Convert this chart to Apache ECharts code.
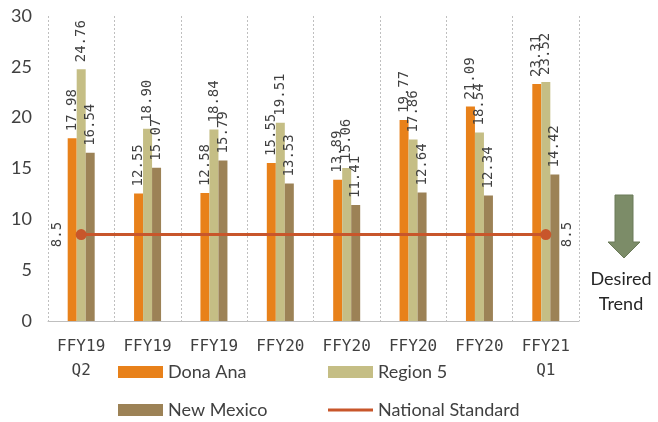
<!DOCTYPE html>
<html><head><meta charset="utf-8">
<script src="https://cdn.jsdelivr.net/npm/echarts@6/dist/echarts.min.js"></script>
<style>html,body{margin:0;padding:0;background:#fff}#c{width:658px;height:422px}</style>
</head><body><div id="c"></div>
<script>
const categories = ["FFY19 Q2","FFY19 Q3","FFY19 Q4","FFY20 Q1","FFY20 Q2","FFY20 Q3","FFY20 Q4","FFY21 Q1"];
const donaAna = [17.98,12.55,12.58,15.55,13.89,19.77,21.09,23.31];
const region5 = [24.76,18.90,18.84,19.51,15.06,17.86,18.54,23.52];
const newMexico = [16.54,15.07,15.79,13.53,11.41,12.64,12.34,14.42];
const nationalStandard = [8.5,8.5,8.5,8.5,8.5,8.5,8.5,8.5];
const yTicks = [0,5,10,15,20,25,30];

const chart = echarts.init(document.getElementById('c'), null, {renderer:'canvas'});
const mono = '"DejaVu Sans Mono", monospace';
const sans = 'Lato, "Noto Sans", sans-serif';
const barLabel = {show:true, position:'top', rotate:90, align:'left', verticalAlign:'middle', distance:7,
  fontFamily:mono, fontSize:14, color:'#404040', formatter:p=>p.value.toFixed(2)};
const last = categories.length-1;
const lineData = nationalStandard.map((v,i)=>{
  if(i===0) return {value:v, symbol:'circle', label:{show:true, position:'left', distance:18}};
  if(i===last) return {value:v, symbol:'circle', label:{show:true, position:'right', distance:16}};
  return {value:v, symbol:'none'};
});
const legBase = {orient:'horizontal', itemWidth:45, itemHeight:12, itemGap:8, selectedMode:false,
  textStyle:{fontFamily:sans, fontSize:18, color:'#404040', lineHeight:22}, padding:0};
chart.setOption({
  animation:false,
  backgroundColor:'#fff',
  grid:{left:48, right:79, top:16, bottom:101},
  xAxis:{type:'category', data:categories,
    axisLine:{lineStyle:{color:'#BFBFBF'}}, axisTick:{show:false},
    splitLine:{show:true, lineStyle:{color:'#BFBFBF', type:[2,2]}},
    axisLabel:{margin:14, interval:0, fontFamily:mono, fontSize:16, color:'#404040', lineHeight:24,
      formatter:(v,i)=>{const p=v.split(' '); return (i===0||i===last)? p[0]+'\n'+p[1] : p[0];}}},
  yAxis:{type:'value', min:yTicks[0], max:yTicks[yTicks.length-1], interval:5,
    axisLine:{show:false}, axisTick:{show:false}, splitLine:{show:false},
    axisLabel:{margin:16, fontFamily:sans, fontSize:18, color:'#404040'}},
  legend:[
    Object.assign({}, legBase, {left:118, top:361, data:[{name:'Dona Ana', icon:'rect'}]}),
    Object.assign({}, legBase, {left:328, top:361, data:[{name:'Region 5', icon:'rect'}]}),
    Object.assign({}, legBase, {left:118, top:399, data:[{name:'New Mexico', icon:'rect'}]}),
    Object.assign({}, legBase, {left:328, top:399, itemHeight:3, data:[{name:'National Standard', icon:'rect'}]})
  ],
  series:[
    {name:'Dona Ana', type:'bar', data:donaAna, barWidth:9, barGap:'0%', itemStyle:{color:'#E8811A'}, label:barLabel},
    {name:'Region 5', type:'bar', data:region5, barWidth:9, barGap:'0%', itemStyle:{color:'#C5BE85'}, label:barLabel},
    {name:'New Mexico', type:'bar', data:newMexico, barWidth:9, barGap:'0%', itemStyle:{color:'#9C8256'}, label:barLabel},
    {name:'National Standard', type:'line', data:lineData, symbolSize:11, z:5,
      lineStyle:{color:'#C8562B', width:3}, itemStyle:{color:'#C8562B'},
      label:{show:false, rotate:90, fontFamily:mono, fontSize:14, color:'#404040', align:'center', verticalAlign:'middle'}}
  ],
  graphic:[
    {type:'polygon', shape:{points:[[615,195],[633,195],[633,242],[640,242],[624,258],[608,242],[615,242]]},
      style:{fill:'#7C8C68', stroke:'#6A7A58', lineWidth:1}},
    {type:'text', style:{text:'Desired', x:621, y:279, fontFamily:sans, fontSize:18, fill:'#262626', textAlign:'center', textVerticalAlign:'middle'}},
    {type:'text', style:{text:'Trend', x:621, y:304, fontFamily:sans, fontSize:18, fill:'#262626', textAlign:'center', textVerticalAlign:'middle'}}
  ]
});
</script></body></html>
